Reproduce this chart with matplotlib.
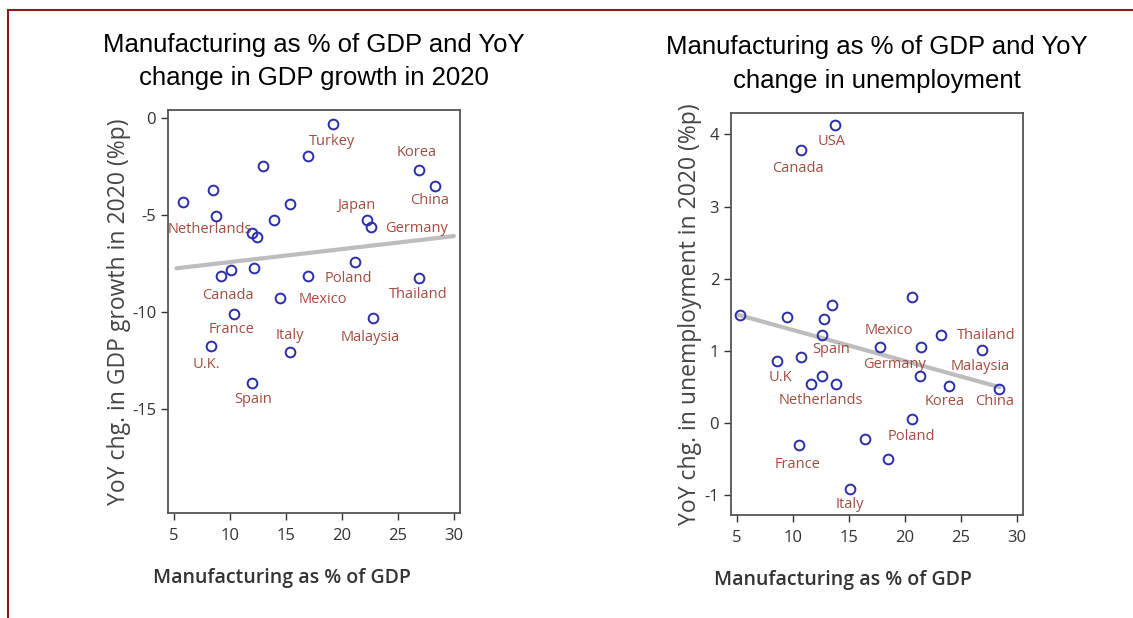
import matplotlib
matplotlib.use("Agg")
import matplotlib.pyplot as plt
from matplotlib.lines import Line2D

plt.rcParams["axes.unicode_minus"] = False

# manufacturing share vs. change in GDP growth
gdp_x = [5.77, 8.45, 8.75, 12.98, 11.93, 12.38, 13.93, 15.36, 16.99, 19.17,
         26.88, 28.30, 22.20, 22.56, 9.17, 10.06, 12.14, 16.99, 21.16, 26.88,
         14.46, 10.39, 22.74, 8.27, 15.36, 12.00]
gdp_y = [-4.30, -3.69, -5.03, -2.44, -5.89, -6.10, -5.24, -4.42, -1.94, -0.29,
         -2.66, -3.49, -5.24, -5.58, -8.13, -7.82, -7.73, -8.13, -7.42, -8.25,
         -9.28, -10.10, -10.31, -11.74, -12.06, -13.63]
gdp_names = ["Turkey", "Korea", "China", "Japan", "Germany", "Netherlands",
             "Canada", "Poland", "Mexico", "Thailand", "France", "Malaysia",
             "Italy", "U.K.", "Spain"]
gdp_lab_x = [19.08, 26.67, 27.86, 21.25, 26.67, 8.21, 9.85, 20.57, 18.27,
             26.82, 10.15, 22.56, 15.36, 7.86, 12.02]
gdp_lab_y = [-1.20, -1.77, -4.24, -4.47, -5.67, -5.72, -9.11, -8.25, -9.33,
             -9.07, -10.88, -11.29, -11.22, -12.71, -14.48]
gdp_trend_x = [5.2, 30.0]
gdp_trend_y = [-7.73, -6.07]

# manufacturing share vs. change in unemployment
un_x = [13.72, 10.68, 5.24, 9.49, 12.74, 13.48, 12.62, 20.65, 23.18, 17.74,
        21.40, 26.85, 8.57, 10.74, 11.64, 12.62, 13.87, 21.37, 23.93, 28.45,
        20.65, 16.40, 18.48, 10.51, 15.06]
un_y = [4.13, 3.78, 1.50, 1.47, 1.45, 1.64, 1.22, 1.75, 1.22, 1.05,
        1.05, 1.01, 0.86, 0.92, 0.55, 0.65, 0.55, 0.65, 0.51, 0.47,
        0.06, -0.22, -0.49, -0.30, -0.91]
un_names = ["USA", "Canada", "Mexico", "Thailand", "Spain", "Germany",
            "Malaysia", "U.K", "Netherlands", "Korea", "China", "Poland",
            "France", "Italy"]
un_lab_x = [13.42, 10.45, 18.57, 27.26, 13.42, 19.08, 26.73, 8.90, 12.44,
            23.54, 28.0, 20.57, 10.39, 15.12]
un_lab_y = [3.90, 3.53, 1.29, 1.22, 1.02, 0.81, 0.79, 0.63, 0.32,
            0.30, 0.30, -0.19, -0.57, -1.13]
un_trend_x = [5.1, 28.45]
un_trend_y = [1.50, 0.50]

title_font = ["Liberation Sans", "DejaVu Sans"]
body_font = ["Open Sans", "DejaVu Sans"]

fig = plt.figure(figsize=(11.33, 6.18), dpi=100)
ax1 = fig.add_axes([0.1483, 0.1699, 0.2577, 0.652])
ax2 = fig.add_axes([0.6452, 0.1667, 0.2577, 0.651])


def draw(ax, x, y, names, lx, ly, tx, ty, yticks, ylim, ylabel, title, ylab_x, xlab_x):
    ax.plot(tx, ty, color="#bdbdbd", lw=3, solid_capstyle="round", zorder=1)
    ax.plot(x, y, "o", ms=7, mfc="none", mec="#2a2ea8", mew=1.4, zorder=3)
    for n, a, b in zip(names, lx, ly):
        ax.text(a, b, n, ha="center", va="center", fontsize=10.5,
                color="#9a3a2c", alpha=0.9, family=body_font, zorder=2)
    ax.set_xlim(4.45, 30.55)
    ax.set_ylim(*ylim)
    ax.set_xticks([5, 10, 15, 20, 25, 30])
    ax.set_yticks(yticks)
    ax.tick_params(labelsize=12, colors="#333333", length=5, width=1,
                   direction="out")
    ax.tick_params(axis="x", pad=6)
    for lab in ax.get_xticklabels() + ax.get_yticklabels():
        lab.set_family(body_font)
    for s in ax.spines.values():
        s.set_color("#555555")
        s.set_linewidth(1.3)
    ax.set_ylabel(ylabel, fontsize=16.5, color="#444444", family=body_font)
    ax.yaxis.set_label_coords(ylab_x, 0.5)
    ax.set_xlabel("Manufacturing as % of GDP", fontsize=14, color="#333333",
                  family=body_font, fontweight="semibold")
    ax.xaxis.set_label_coords(xlab_x, -0.136)
    ax.set_title(title, fontsize=18.5, family=title_font, linespacing=1.5, pad=18)


draw(ax1, gdp_x, gdp_y, gdp_names, gdp_lab_x, gdp_lab_y, gdp_trend_x, gdp_trend_y,
     [0, -5, -10, -15], (-20.35, 0.43), "YoY chg. in GDP growth in 2020 (%p)",
     "Manufacturing as % of GDP and YoY\nchange in GDP growth in 2020", -0.127, 0.39)
draw(ax2, un_x, un_y, un_names, un_lab_x, un_lab_y, un_trend_x, un_trend_y,
     [-1, 0, 1, 2, 3, 4], (-1.27, 4.30), "YoY chg. in unemployment in 2020 (%p)",
     "Manufacturing as % of GDP and YoY\nchange in unemployment", -0.10, 0.384)

# page frame
fig.add_artist(Line2D([8 / 1133, 1], [1 - 9.5 / 618, 1 - 9.5 / 618], color="#8b1a1a", lw=1.5))
fig.add_artist(Line2D([8 / 1133, 8 / 1133], [0, 1 - 9.5 / 618], color="#8b1a1a", lw=1.5))

fig.savefig("out.png", dpi=100)
